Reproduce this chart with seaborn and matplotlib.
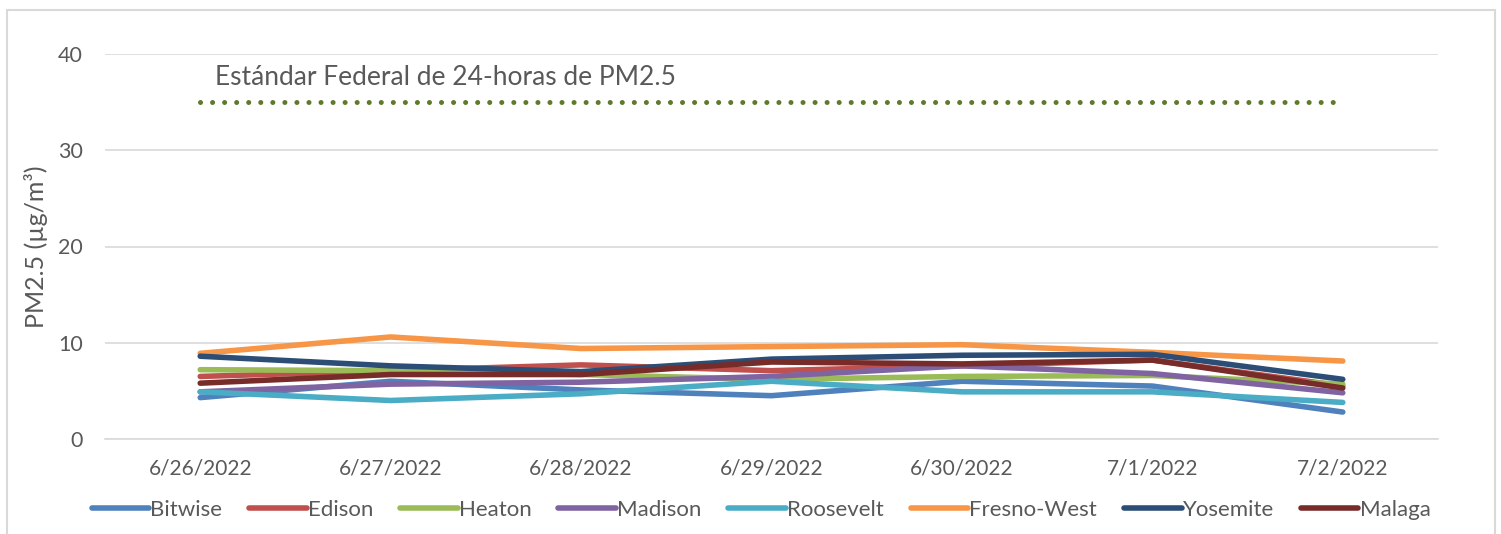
import pandas as pd
import matplotlib.pyplot as plt
import matplotlib.patches as mpatches
import seaborn as sns

sns.set_style("white")
plt.rcParams['font.family'] = ['Lato', 'DejaVu Sans']

# Data
dates = ["6/26/2022", "6/27/2022", "6/28/2022", "6/29/2022",
         "6/30/2022", "7/1/2022", "7/2/2022"]
sites = ["Bitwise", "Edison", "Heaton", "Madison", "Roosevelt",
         "Fresno-West", "Yosemite", "Malaga"]
bitwise = [4.3, 6.0, 5.1, 4.5, 6.0, 5.5, 2.8]
edison = [6.5, 7.1, 7.7, 7.1, 7.6, 8.2, 5.5]
heaton = [7.2, 7.1, 6.7, 6.2, 6.5, 6.6, 5.7]
madison = [4.9, 5.7, 5.9, 6.5, 7.6, 6.8, 4.8]
roosevelt = [4.9, 4.0, 4.7, 6.0, 4.9, 4.9, 3.8]
fresno_west = [8.9, 10.6, 9.4, 9.6, 9.8, 9.0, 8.1]
yosemite = [8.6, 7.6, 7.0, 8.3, 8.7, 8.8, 6.2]
malaga = [5.8, 6.7, 6.7, 8.0, 7.8, 8.2, 5.3]
standard = [35] * len(dates)
standard_label = "Estándar Federal de 24-horas de PM2.5"

colors = ["#4F81BD", "#C0504D", "#9BBB59", "#8064A2", "#4BACC6",
          "#F79646", "#2C4D75", "#772C2A"]

values = [bitwise, edison, heaton, madison, roosevelt, fresno_west, yosemite, malaga]
df = pd.DataFrame({
    'Date': dates * len(sites),
    'Site': [s for s in sites for _ in dates],
    'PM25': [v for vals in values for v in vals],
})
std_df = pd.DataFrame({'Date': dates, 'PM25': standard})

fig = plt.figure(figsize=(15.01, 5.34), dpi=100)
ax = fig.add_axes([105 / 1501, 1 - 439 / 534, 1333 / 1501, 385 / 534])

text_col = '#595959'
grid_col = '#D9D9D9'

sns.lineplot(data=std_df, x='Date', y='PM25', ax=ax, color='#5E7A2C',
             linewidth=3.6, linestyle=(0, (0.01, 2.4)), dash_capstyle='round', sort=False)
sns.lineplot(data=df, x='Date', y='PM25', hue='Site', hue_order=sites,
             palette=dict(zip(sites, colors)), linewidth=4.0, sort=False,
             solid_capstyle='round', ax=ax)

ax.text(0.08, 37.6, standard_label, fontsize=19, color=text_col, va='center', ha='left')

ax.set_xlim(-0.5, len(dates) - 0.5)
ax.set_ylim(0, 40)
ax.set_yticks([0, 10, 20, 30, 40])
ax.grid(axis='y', color=grid_col, linewidth=1.2)
ax.set_axisbelow(True)
for side in ['top', 'right', 'left']:
    ax.spines[side].set_visible(False)
ax.spines['bottom'].set_color(grid_col)
ax.spines['bottom'].set_linewidth(1.2)

ax.tick_params(axis='y', length=0, pad=16, labelsize=15.5, labelcolor=text_col)
ax.tick_params(axis='x', which='major', length=0, pad=14, labelsize=15, labelcolor=text_col)
ax.set_xticks([i - 0.5 for i in range(len(dates) + 1)], minor=True)
ax.tick_params(axis='x', which='minor', length=5, width=1.2, color=grid_col)

ax.set_xlabel('')
ax.set_ylabel('PM2.5 (µg/m³)', fontsize=18, color=text_col)
ax.yaxis.set_label_coords(-0.043, 0.5)

handles, labels = ax.get_legend_handles_labels()
ax.get_legend().remove()
leg = fig.legend(handles, labels, loc='center', bbox_to_anchor=(0.507, 0.045),
                 ncol=len(sites), frameon=False, fontsize=16, handlelength=2.6,
                 handletextpad=0.05, columnspacing=1.2)
for t in leg.get_texts():
    t.set_color(text_col)
for h in leg.legend_handles:
    h.set_linewidth(4.0)
    h.set_solid_capstyle('round')

# chart border
fig.patches.append(mpatches.Rectangle((7 / 1501, -0.1), 1488 / 1501, 1.1 - 10 / 534,
                                      transform=fig.transFigure, fill=False,
                                      edgecolor=grid_col, linewidth=1.5))

fig.savefig('out.png', dpi=100)
